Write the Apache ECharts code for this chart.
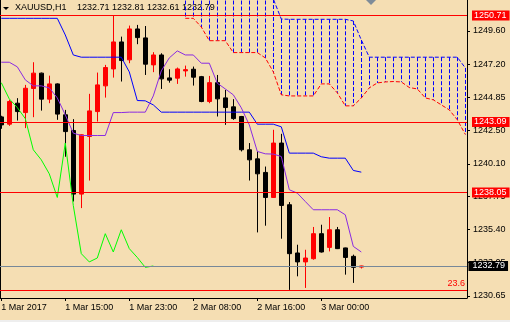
<!DOCTYPE html>
<html><head><meta charset="utf-8">
<script src="https://cdn.jsdelivr.net/npm/echarts@6/dist/echarts.min.js"></script>
<style>html,body{margin:0;padding:0;background:#F5DEB3}#c{width:510px;height:322px}</style>
</head><body><div id="c"></div>
<script>
// ---- data (XAUUSD H1) ----
const symbolTitle = 'XAUUSD,H1';
const ohlcTitle = '1232.71 1232.81 1232.61 1232.79';
const opens  = [1243.45,1242.93,1244.43,1243.76,1245.48,1246.58,1244.72,1245.81,1243.60,1242.48,1237.93,1242.05,1243.83,1245.67,1246.88,1248.81,1247.53,1249.74,1249.10,1247.17,1247.88,1246.24,1246.22,1246.74,1246.86,1246.33,1244.55,1245.90,1244.81,1244.17,1243.48,1241.10,1240.45,1239.48,1237.69,1241.58,1237.17,1233.72,1233.08,1233.31,1235.10,1234.12,1235.38,1234.08,1233.48,1232.71];
const closes = [1242.88,1244.55,1243.83,1245.50,1246.58,1244.72,1245.81,1243.65,1242.40,1237.93,1242.17,1243.88,1245.74,1246.98,1248.81,1247.48,1249.74,1249.12,1247.22,1247.88,1246.17,1246.08,1246.88,1246.83,1246.29,1244.55,1245.90,1244.74,1244.12,1243.33,1241.10,1240.38,1239.38,1237.69,1241.58,1237.12,1233.67,1233.08,1233.36,1235.10,1233.79,1235.38,1234.03,1233.40,1232.69,1232.79];
const lows   = [1242.60,1242.81,1243.19,1242.65,1243.43,1243.90,1244.43,1243.24,1240.60,1237.40,1236.93,1238.90,1243.12,1244.83,1246.26,1245.98,1247.29,1248.65,1246.45,1246.65,1245.45,1245.90,1245.81,1246.33,1245.69,1244.50,1244.43,1243.48,1242.88,1243.24,1240.98,1238.90,1235.19,1235.67,1237.65,1234.74,1231.08,1232.05,1231.22,1233.24,1233.75,1233.83,1234.00,1232.17,1231.58,1232.61];
const highs  = [1243.53,1244.67,1244.79,1245.74,1247.36,1246.62,1246.40,1245.85,1243.95,1243.29,1242.20,1245.10,1246.62,1247.17,1250.67,1249.19,1249.98,1250.03,1249.95,1248.08,1248.00,1246.86,1246.98,1247.12,1247.05,1246.38,1246.38,1246.45,1245.38,1244.72,1243.52,1241.58,1240.98,1239.90,1242.53,1242.24,1237.36,1234.31,1233.95,1235.58,1235.74,1236.29,1235.58,1234.10,1233.60,1232.81];
const tenkan = [1247.36,1247.36,1247.03,1246.10,1245.67,1245.67,1245.53,1244.81,1243.60,1242.29,1242.12,1242.12,1242.12,1242.12,1243.76,1243.76,1243.79,1243.79,1243.79,1244.95,1246.74,1247.67,1248.17,1247.88,1247.88,1247.29,1247.29,1245.86,1245.45,1245.03,1244.10,1242.88,1240.98,1240.81,1240.79,1240.62,1238.24,1238.00,1237.40,1236.81,1236.81,1236.81,1236.81,1236.45,1234.19,1233.79];
const kijun  = [1250.50,1250.50,1250.50,1250.50,1250.50,1250.50,1250.50,1250.50,1249.31,1247.88,1247.72,1247.72,1247.72,1247.72,1247.72,1247.72,1246.67,1244.62,1244.60,1244.31,1243.79,1243.79,1243.79,1243.79,1243.79,1243.79,1243.79,1243.79,1243.79,1243.79,1243.79,1243.79,1242.93,1242.93,1242.93,1242.74,1240.86,1240.86,1240.86,1240.86,1240.60,1240.50,1240.50,1240.50,1239.62,1239.50];
const chikou = [1245.90,1244.74,1244.12,1243.33,1241.10,1240.38,1239.38,1237.69,1241.58,1237.12,1233.67,1233.08,1233.36,1235.10,1233.79,1235.38,1234.03,1233.40,1232.69,1232.79];
const cloudStart = 23;
const spanA = [1250.50,1250.50,1249.88,1248.90,1248.90,1248.90,1248.05,1248.05,1248.05,1248.05,1247.67,1246.67,1245.03,1244.95,1244.95,1244.95,1244.95,1245.81,1245.81,1245.17,1244.24,1244.24,1244.80,1245.53,1245.88,1245.95,1245.98,1245.95,1245.55,1245.45,1244.81,1244.67,1244.31,1243.95,1243.24,1242.20];
const spanB = [1252.20,1252.20,1252.20,1252.20,1252.20,1252.20,1252.20,1252.20,1252.20,1252.20,1252.20,1251.88,1250.45,1250.43,1250.43,1250.43,1250.43,1250.43,1250.43,1250.43,1250.43,1250.31,1248.95,1247.72,1247.72,1247.72,1247.72,1247.72,1247.72,1247.72,1247.72,1247.72,1247.72,1247.72,1247.72,1246.95];
const xTickIdx = [0, 8, 16, 24, 32, 40];
const xTickLabels = ['1 Mar 2017', '1 Mar 15:00', '1 Mar 23:00', '2 Mar 08:00', '2 Mar 16:00', '3 Mar 00:00'];
const yTicks = [1249.60, 1247.20, 1244.85, 1242.50, 1240.10, 1237.75, 1235.40, 1233.05, 1230.65];
const levels = [1250.71, 1243.09, 1238.05];
const bidPrice = 1232.79;
const fibPrice = 1231.08;
const fibLabel = '23.6';

// ---- chart ----
const FONT = '"Liberation Sans", Arial, sans-serif';
const yMin = 1230.50, yMax = 1251.81;
const candleData = opens.map((o, i) => [i, o, closes[i], lows[i], highs[i]]);
const hatchData = spanB.map((b, i) => [cloudStart + i, b, spanA[i]]);

const markData = levels.map(v => ({
  yAxis: v,
  lineStyle: {color: '#ff0000', width: 1, type: 'solid'},
  label: {show: true, position: 'end', formatter: v.toFixed(2), color: '#ffffff', backgroundColor: '#ff0000',
          padding: [1, 3, 0, 2], fontSize: 9, lineHeight: 9, distance: 5, fontFamily: FONT}
}));
markData.push({
  yAxis: bidPrice,
  lineStyle: {color: '#778899', width: 1, type: 'solid'},
  label: {show: true, position: 'end', formatter: bidPrice.toFixed(2), color: '#ffffff', backgroundColor: '#000000',
          padding: [1, 3, 0, 4], fontSize: 9, lineHeight: 9, distance: 1.5, fontFamily: FONT}
});
markData.push({
  yAxis: fibPrice,
  lineStyle: {color: '#ff0000', width: 1, type: 'solid'},
  label: {show: true, position: 'insideEndTop', formatter: fibLabel, color: '#ff0000', fontSize: 9, distance: 2, fontFamily: FONT}
});

const chart = echarts.init(document.getElementById('c'), null, {renderer: 'canvas'});
chart.setOption({
  animation: false,
  backgroundColor: '#F5DEB3',
  textStyle: {fontFamily: FONT},
  grid: {left: 0, right: 43, top: 0, bottom: 24, outerBoundsMode: 'none', containLabel: false},
  graphic: [
    {type: 'polygon', shape: {points: [[3, 7], [9, 7], [6, 10]]}, style: {fill: '#000'}},
    {type: 'text', left: 15, top: 3.5, style: {text: symbolTitle, fill: '#000', font: '9px ' + FONT}},
    {type: 'text', left: 77, top: 3.5, style: {text: ohlcTitle, fill: '#000', font: '9px ' + FONT}},
    {type: 'polygon', shape: {points: [[366, 0], [376, 0], [371, 5]]}, style: {fill: '#7f8c99'}},
    {type: 'rect', shape: {x: 0, y: 320, width: 510, height: 2}, style: {fill: '#eeeeee'}}
  ],
  xAxis: {
    type: 'value', min: -0.16, max: 58.21,
    splitLine: {show: false},
    axisLine: {show: true, onZero: false, lineStyle: {color: '#000', width: 1}},
    axisTick: {show: true, customValues: xTickIdx, length: 3, lineStyle: {color: '#000'}},
    axisLabel: {customValues: xTickIdx, formatter: v => xTickLabels[xTickIdx.indexOf(v)] || '',
                align: 'left', color: '#000', fontSize: 9, lineHeight: 10, margin: 5, fontFamily: FONT}
  },
  yAxis: [{
    type: 'value', position: 'right', min: yMin, max: yMax,
    splitLine: {show: false},
    axisLine: {show: true, onZero: false, lineStyle: {color: '#000', width: 1}},
    axisTick: {show: true, customValues: yTicks, length: 3, lineStyle: {color: '#000'}},
    axisLabel: {customValues: yTicks, formatter: v => Number(v).toFixed(2), color: '#000', fontSize: 9, margin: 6, fontFamily: FONT}
  }, {
    type: 'value', position: 'left', min: yMin, max: yMax,
    splitLine: {show: false},
    axisLine: {show: true, onZero: false, lineStyle: {color: '#000', width: 1}},
    axisTick: {show: false}, axisLabel: {show: false}
  }],
  series: [
    {
      type: 'custom', name: 'cloud', data: hatchData, encode: {x: 0, y: [1, 2]}, clip: true, silent: true, z: 1,
      renderItem: (params, api) => {
        const x = api.value(0);
        const p1 = api.coord([x, api.value(1)]);
        const p2 = api.coord([x, api.value(2)]);
        const px = Math.round(p1[0]) + 0.5;
        return {type: 'line', shape: {x1: px, y1: p1[1], x2: px, y2: p2[1]},
                style: {stroke: '#0000ff', lineWidth: 1, lineDash: [4, 2]}};
      }
    },
    {type: 'line', name: 'Senkou A', data: spanA.map((v, i) => [cloudStart + i, v]), symbol: 'none', silent: true, z: 2,
     lineStyle: {color: '#ff0000', width: 1, type: [4, 2]}},
    {type: 'line', name: 'Senkou B', data: spanB.map((v, i) => [cloudStart + i, v]), symbol: 'none', silent: true, z: 2,
     lineStyle: {color: '#0000ff', width: 1, type: [4, 2]}},
    {type: 'candlestick', name: 'XAUUSD', data: candleData, encode: {x: 0, y: [1, 2, 3, 4]}, barWidth: 4, z: 3, silent: true,
     itemStyle: {color: '#ff0000', color0: '#000000', borderColor: '#ff0000', borderColor0: '#000000', borderWidth: 1},
     markLine: {silent: true, symbol: ['none', 'none'], animation: false, data: markData}},
    {type: 'line', name: 'Kijun', data: kijun.map((v, i) => [i, v]), symbol: 'none', silent: true, z: 4,
     lineStyle: {color: '#0000ff', width: 1}},
    {type: 'line', name: 'Tenkan', data: tenkan.map((v, i) => [i, v]), symbol: 'none', silent: true, z: 4,
     lineStyle: {color: '#8a2be2', width: 1}},
    {type: 'line', name: 'Chikou', data: chikou.map((v, i) => [i, v]), symbol: 'none', silent: true, z: 4,
     lineStyle: {color: '#00ff00', width: 1}}
  ]
});
</script></body></html>
